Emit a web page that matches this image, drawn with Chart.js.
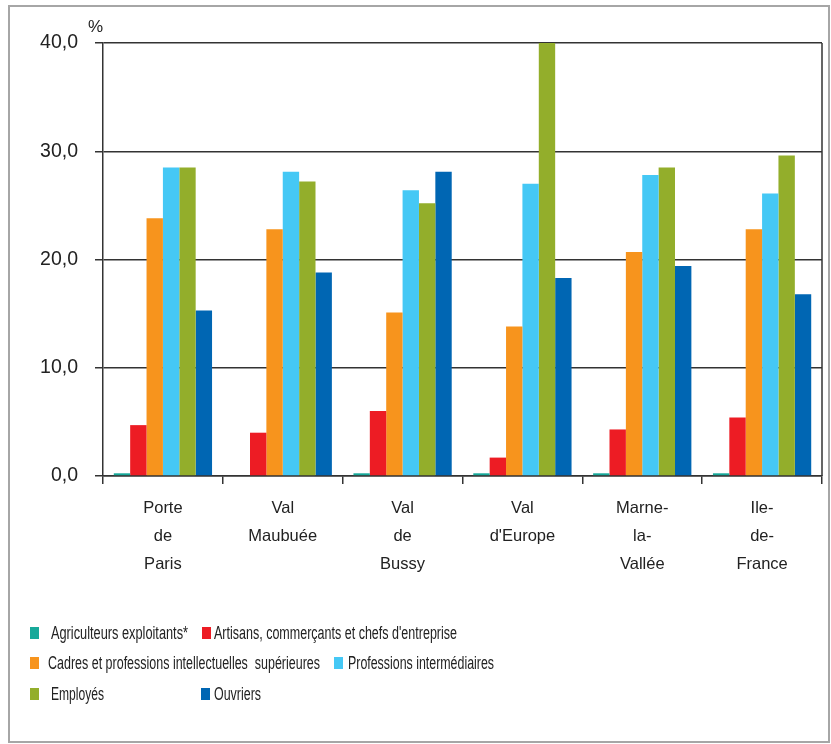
<!DOCTYPE html>
<html>
<head>
<meta charset="utf-8">
<script src="https://cdn.jsdelivr.net/npm/chart.js@4.4.1/dist/chart.umd.min.js"></script>
<style>
  body { margin: 0; background: #fff; overflow: hidden; }
  #wrap { position: relative; width: 831px; height: 744px; }
</style>
</head>
<body>
<div id="wrap"><canvas id="myChart"></canvas></div>
<script>
// categories (multi-line tick labels)
var zones = [
    ['Porte', 'de', 'Paris'],
    ['Val', 'Maubuée'],
    ['Val', 'de', 'Bussy'],
    ['Val', "d'Europe"],
    ['Marne-', 'la-', 'Vallée'],
    ['Ile-', 'de-', 'France']
];

// % of population by socio-professional category
var agriculteurs = [0.25, 0, 0.25, 0.25, 0.25, 0.25];
var artisans     = [4.7, 4.0, 6.0, 1.7, 4.3, 5.4];
var cadres       = [23.8, 22.8, 15.1, 13.8, 20.7, 22.8];
var profInter    = [28.5, 28.1, 26.4, 27.0, 27.8, 26.1];
var employes     = [28.5, 27.2, 25.2, 40.5, 28.5, 29.6];
var ouvriers     = [15.3, 18.8, 28.1, 18.3, 19.4, 16.8];

var yTicks = [0, 10, 20, 30, 40];
var unitLabel = '%';

var seriesNames = [
    'Agriculteurs exploitants*',
    "Artisans, commerçants et chefs d'entreprise",
    'Cadres et professions intellectuelles  supérieures',
    'Professions intermédiaires',
    'Employés',
    'Ouvriers'
];
var colors = ['#17a99a', '#ed1c24', '#f7941d', '#45c8f5', '#93ae2b', '#0066b3'];

// legend entry layout: square x, text x, row y, text width (condensed look)
var legendSpots = [
    [30, 51, 633, 137], [202, 214, 633, 243],
    [30, 48, 663, 272], [334, 348, 663, 146],
    [30, 51, 694, 53],  [201, 214, 694, 47]
];

var textFont = '"Liberation Sans", Arial, sans-serif';

var decor = {
    id: 'decor',
    beforeDraw: function (chart) {
        var c = chart.ctx;
        c.save();
        c.strokeStyle = '#a6a6a6';
        c.lineWidth = 2;
        c.strokeRect(9, 6, 820, 736);
        c.restore();
    },
    afterDraw: function (chart) {
        var c = chart.ctx;
        var a = chart.chartArea;
        c.save();
        // right frame of plot
        c.strokeStyle = '#333';
        c.lineWidth = 1.5;
        c.beginPath();
        c.moveTo(a.right, a.top);
        c.lineTo(a.right, a.bottom);
        c.stroke();
        // unit
        c.fillStyle = '#222';
        c.font = '17px ' + textFont;
        c.textAlign = 'left';
        c.textBaseline = 'middle';
        c.fillText(unitLabel, 88, 27);
        // legend
        chart.data.datasets.forEach(function (ds, i) {
            var s = legendSpots[i];
            c.fillStyle = ds.backgroundColor;
            c.fillRect(s[0], s[2] - 6, 9, 12);
            c.fillStyle = '#222';
            c.font = '18px ' + textFont;
            c.fillText(ds.label, s[1], s[2] + 1, s[3]);
        });
        c.restore();
    }
};

var seriesData = [agriculteurs, artisans, cadres, profInter, employes, ouvriers];

var ctx = document.getElementById('myChart').getContext('2d');

var myChart = new Chart(ctx, {
    type: 'bar',
    data: {
        labels: zones,
        datasets: seriesData.map(function (d, i) {
            return {
                label: seriesNames[i],
                data: d,
                backgroundColor: colors[i],
                borderWidth: 0,
                clip: 0
            };
        })
    },
    options: {
        responsive: true,
        maintainAspectRatio: false,
        animation: false,
        layout: { padding: { top: 43, right: 9, left: 0, bottom: 0 } },
        datasets: {
            bar: { barPercentage: 1, categoryPercentage: 0.82 }
        },
        plugins: {
            legend: { display: false },
            tooltip: { enabled: false }
        },
        scales: {
            x: {
                afterFit: function (scale) { scale.height = 268; },
                grid: {
                    offset: true,
                    drawOnChartArea: false,
                    color: '#333',
                    lineWidth: 1.5,
                    tickLength: 8
                },
                border: { color: '#333', width: 1.5 },
                ticks: {
                    color: '#222',
                    padding: 10,
                    maxRotation: 0,
                    autoSkip: false,
                    font: { family: textFont, size: 16.5, lineHeight: 1.72 }
                }
            },
            y: {
                min: 0,
                max: 40,
                afterFit: function (scale) { scale.width = 103; },
                afterBuildTicks: function (scale) {
                    scale.ticks = yTicks.map(function (v) { return { value: v }; });
                },
                grid: {
                    color: '#333',
                    lineWidth: 1.5,
                    tickLength: 8
                },
                border: { color: '#333', width: 1.5 },
                ticks: {
                    color: '#222',
                    padding: 17,
                    font: { family: textFont, size: 19.5 },
                    callback: function (v) { return v.toFixed(1).replace('.', ','); }
                }
            }
        }
    },
    plugins: [decor]
});
</script>
</body>
</html>
